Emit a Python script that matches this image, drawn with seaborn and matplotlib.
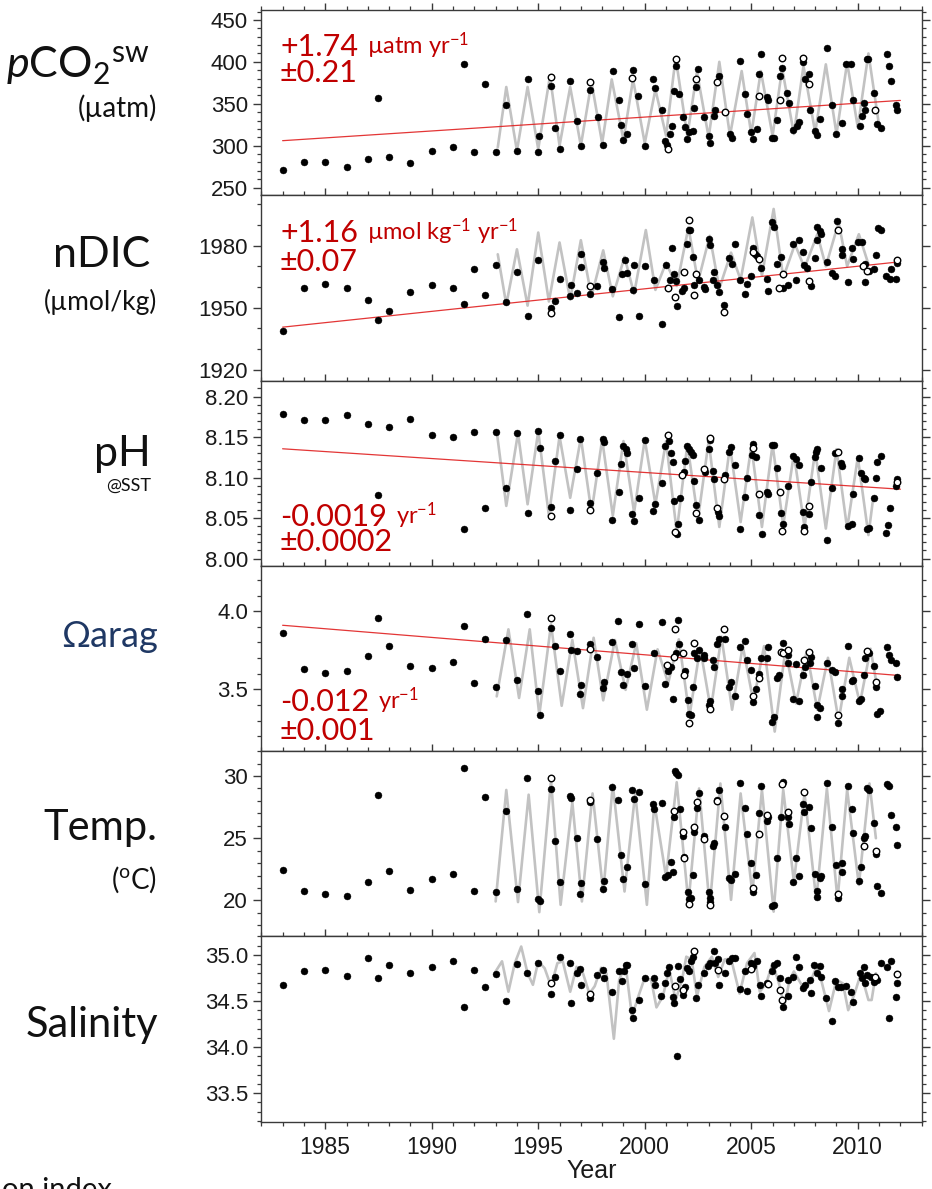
import pandas as pd
import seaborn as sns
import matplotlib.pyplot as plt
from matplotlib.ticker import MultipleLocator, FormatStrFormatter

# ---------------- values (year, value) ----------------
pco2_obs = [(1983.0, 271), (1984.0, 280), (1985.0, 281), (1986.0, 275), (1987.0, 284), (1987.5, 357),
            (1988.0, 286), (1989.0, 279), (1990.0, 294), (1991.0, 298), (1991.5, 397), (1992.0, 293),
            (1992.5, 373), (1993.0, 293), (1993.5, 348), (1994.0, 294), (1994.5, 380), (1995.0, 292),
            (1995.05, 312), (1995.6, 371), (1995.8, 321), (1996.0, 296), (1996.5, 377), (1996.8, 330),
            (1997.0, 300), (1997.45, 367), (1997.8, 334), (1998.05, 301), (1998.5, 389), (1998.8, 355),
            (1998.9, 325), (1999.0, 307), (1999.15, 314), (1999.45, 390), (1999.7, 359), (2000.0, 300),
            (2000.4, 379), (2000.5, 369), (2000.8, 342), (2000.95, 306), (2001.05, 301), (2001.2, 314),
            (2001.3, 323), (2001.35, 365), (2001.47, 395), (2001.6, 362), (2001.8, 334), (2001.87, 322),
            (2002.0, 308), (2002.06, 316), (2002.26, 317), (2002.3, 345), (2002.42, 370), (2002.48, 391),
            (2002.8, 334), (2003.03, 312), (2003.07, 303), (2003.23, 335), (2003.31, 343), (2003.47, 383),
            (2004.0, 314), (2004.1, 309), (2004.45, 401), (2004.7, 362), (2004.8, 338), (2005.0, 316),
            (2005.06, 308), (2005.26, 320), (2005.38, 385), (2005.46, 409), (2005.72, 358), (2005.8, 355),
            (2005.96, 309), (2006.08, 309), (2006.2, 331), (2006.35, 383), (2006.46, 393), (2006.7, 363),
            (2006.77, 351), (2006.98, 319), (2007.13, 324), (2007.24, 328), (2007.45, 400), (2007.52, 380),
            (2007.7, 385), (2007.76, 343), (2008.0, 318), (2008.1, 313), (2008.23, 332), (2008.54, 416),
            (2008.8, 348), (2009.0, 314), (2009.24, 327), (2009.47, 398), (2009.7, 398), (2009.78, 355),
            (2010.1, 323), (2010.2, 335), (2010.3, 351), (2010.36, 343), (2010.45, 403), (2010.5, 403),
            (2010.77, 363), (2010.92, 326), (2011.08, 321), (2011.39, 409), (2011.47, 395), (2011.55, 377),
            (2011.81, 348), (2011.86, 343)]
pco2_open = [(1995.6, 382), (1997.45, 376), (1999.4, 381), (2001.08, 296), (2001.47, 403), (2002.4, 380),
             (2003.38, 376), (2003.75, 340), (2005.37, 359), (2006.35, 355), (2006.43, 404), (2007.45, 405),
             (2007.71, 374), (2010.83, 342)]
pco2_fit = [(1993.1, 298), (1993.5, 370), (1994.0, 294), (1994.5, 370), (1995.0, 296), (1995.55, 383),
            (1996.0, 300), (1996.5, 370), (1997.0, 300), (1997.5, 376), (1998.0, 303), (1998.45, 379),
            (1999.0, 307), (1999.45, 379), (2000.0, 303), (2000.5, 367), (2001.0, 312), (2001.45, 405),
            (2002.0, 312), (2002.45, 388), (2003.0, 310), (2003.5, 400), (2004.0, 312), (2004.55, 389),
            (2005.0, 314), (2005.45, 389), (2006.0, 312), (2006.45, 392), (2007.0, 314), (2007.45, 395),
            (2008.0, 316), (2008.5, 397), (2009.0, 314), (2009.5, 399), (2010.0, 322), (2010.5, 410),
            (2011.0, 324)]
pco2_trend = [(1983.0, 306), (2012.0, 354)]

ndic_obs = [(1983.0, 1938.7), (1984.0, 1959.3), (1985.0, 1961.4), (1986.0, 1959.3), (1987.0, 1953.7),
            (1987.5, 1944.0), (1988.0, 1948.6), (1989.0, 1957.6), (1990.0, 1961.0), (1991.0, 1959.3),
            (1991.5, 1951.8), (1992.0, 1968.8), (1992.5, 1956.0), (1993.0, 1970.6), (1993.5, 1952.6),
            (1994.0, 1967.4), (1994.5, 1945.8), (1995.0, 1972.9), (1995.6, 1949.9), (1995.8, 1953.1),
            (1996.0, 1964.0), (1996.5, 1955.5), (1996.55, 1960.9), (1996.8, 1957.1), (1997.0, 1975.8),
            (1997.03, 1969.6), (1997.45, 1956.7), (1997.77, 1960.4), (1998.04, 1972.1), (1998.08, 1969.0),
            (1998.47, 1959.1), (1998.79, 1945.5), (1998.94, 1966.1), (1999.05, 1972.9), (1999.17, 1966.9),
            (1999.45, 1958.5), (1999.49, 1970.6), (1999.72, 1945.8), (2000.0, 1970.1), (2000.42, 1963.2),
            (2000.81, 1942.2), (2001.02, 1970.6), (2001.17, 1963.6), (2001.28, 1979.0), (2001.36, 1966.4),
            (2001.48, 1962.8), (2001.51, 1950.7), (2001.75, 1958.0), (2001.83, 1959.6), (2001.98, 1980.7),
            (2002.1, 1987.5), (2002.12, 1987.7), (2002.26, 1974.5), (2002.33, 1960.9), (2002.53, 1963.6),
            (2002.79, 1959.9), (2002.84, 1958.8), (2003.01, 1983.1), (2003.07, 1980.2), (2003.19, 1963.2),
            (2003.27, 1967.2), (2003.38, 1960.9), (2003.5, 1957.5), (2003.72, 1951.5), (2003.97, 1974.2),
            (2004.09, 1971.2), (2004.24, 1980.7), (2004.48, 1963.2), (2004.71, 1956.7), (2004.79, 1961.5),
            (2005.0, 1965.3), (2005.07, 1979.0), (2005.18, 1975.8), (2005.29, 1975.0), (2005.44, 1969.3),
            (2005.72, 1964.1), (2005.77, 1958.0), (2005.96, 1991.2), (2006.07, 1989.1), (2006.19, 1971.2),
            (2006.38, 1974.5), (2006.5, 1959.6), (2006.74, 1960.9), (2006.97, 1980.7), (2007.1, 1963.6),
            (2007.25, 1982.6), (2007.44, 1977.1), (2007.49, 1970.6), (2007.63, 1969.0), (2007.79, 1960.7),
            (2007.99, 1974.2), (2008.07, 1982.6), (2008.1, 1989.1), (2008.23, 1987.1), (2008.26, 1985.5),
            (2008.54, 1972.2), (2008.78, 1966.9), (2008.94, 1965.3), (2009.04, 1991.7), (2009.24, 1978.5),
            (2009.26, 1975.3), (2009.52, 1962.5), (2009.71, 1979.0), (2009.79, 1973.4), (2010.02, 1981.9),
            (2010.18, 1981.8), (2010.34, 1971.2), (2010.36, 1962.5), (2010.54, 1967.7), (2010.75, 1968.5),
            (2010.84, 1975.5), (2010.95, 1988.5), (2011.1, 1987.5), (2011.34, 1965.3), (2011.5, 1964.1),
            (2011.57, 1968.5), (2011.81, 1964.1), (2011.84, 1971.7)]
ndic_open = [(1995.6, 1947.4), (1997.42, 1960.7), (2001.1, 1959.3), (2001.44, 1955.0), (2001.86, 1967.2),
             (2002.06, 1992.3), (2002.3, 1956.3), (2002.42, 1966.1), (2003.74, 1947.9), (2005.1, 1976.9),
             (2005.38, 1973.4), (2006.32, 1959.6), (2006.48, 1966.1), (2007.72, 1962.8), (2009.09, 1987.5),
             (2010.26, 1970.1), (2010.45, 1967.7), (2011.84, 1973.0)]
ndic_fit = [(1993.1, 1975.8), (1993.5, 1951.5), (1994.0, 1978.2), (1994.5, 1951.0), (1995.0, 1986.3),
            (1995.5, 1953.0), (1996.0, 1981.5), (1996.5, 1954.0), (1997.0, 1982.6), (1997.5, 1955.5),
            (1998.05, 1977.7), (1998.5, 1955.5), (1999.05, 1974.5), (1999.5, 1956.7), (2000.05, 1987.5),
            (2000.5, 1958.6), (2001.0, 1971.7), (2001.5, 1960.5), (2002.05, 1988.8), (2002.5, 1962.5),
            (2003.05, 1984.7), (2003.5, 1959.3), (2004.05, 1976.6), (2004.5, 1963.5), (2005.05, 1993.6),
            (2005.5, 1965.5), (2006.05, 1997.7), (2006.5, 1964.5), (2007.05, 1980.7), (2007.5, 1969.2),
            (2008.1, 1985.5), (2008.5, 1970.0), (2009.1, 1991.2), (2009.5, 1970.0), (2010.05, 1985.5),
            (2010.5, 1971.0)]
ndic_trend = [(1983.0, 1940.6), (2012.0, 1972.2)]

ph_obs = [(1983.0, 8.179), (1984.0, 8.171), (1985.0, 8.171), (1986.0, 8.177), (1987.0, 8.166), (1987.5, 8.078),
          (1988.0, 8.163), (1989.0, 8.172), (1990.0, 8.153), (1991.0, 8.150), (1991.5, 8.036), (1992.0, 8.156),
          (1992.5, 8.062), (1993.0, 8.156), (1993.5, 8.087), (1994.0, 8.155), (1994.5, 8.056), (1995.0, 8.158),
          (1995.07, 8.136), (1995.6, 8.064), (1995.8, 8.121), (1996.0, 8.153), (1996.48, 8.060), (1996.8, 8.110),
          (1996.98, 8.148), (1997.42, 8.068), (1997.77, 8.105), (1998.04, 8.147), (1998.08, 8.144),
          (1998.47, 8.047), (1998.79, 8.082), (1998.9, 8.117), (1998.97, 8.139), (1999.1, 8.135),
          (1999.17, 8.130), (1999.41, 8.055), (1999.49, 8.046), (1999.72, 8.075), (1999.99, 8.146),
          (2000.39, 8.059), (2000.46, 8.067), (2000.81, 8.093), (2000.97, 8.139), (2001.12, 8.145),
          (2001.23, 8.130), (2001.33, 8.119), (2001.36, 8.071), (2001.51, 8.030), (2001.54, 8.043),
          (2001.67, 8.075), (2001.83, 8.107), (2001.87, 8.121), (2001.98, 8.139), (2002.06, 8.135),
          (2002.17, 8.132), (2002.26, 8.128), (2002.3, 8.096), (2002.42, 8.066), (2002.53, 8.047),
          (2002.84, 8.107), (2003.0, 8.135), (2003.07, 8.146), (2003.22, 8.108), (2003.27, 8.098),
          (2003.46, 8.057), (2003.49, 8.053), (2003.78, 8.103), (2003.94, 8.132), (2004.04, 8.138),
          (2004.24, 8.115), (2004.45, 8.036), (2004.71, 8.076), (2004.79, 8.100), (2005.02, 8.128),
          (2005.07, 8.141), (2005.23, 8.125), (2005.38, 8.054), (2005.49, 8.030), (2005.72, 8.082),
          (2005.77, 8.080), (2005.96, 8.140), (2006.07, 8.140), (2006.19, 8.112), (2006.38, 8.056),
          (2006.48, 8.043), (2006.74, 8.089), (2006.94, 8.127), (2007.1, 8.123), (2007.25, 8.116),
          (2007.44, 8.058), (2007.48, 8.039), (2007.72, 8.055), (2007.79, 8.095), (2008.0, 8.125),
          (2008.03, 8.132), (2008.1, 8.135), (2008.25, 8.112), (2008.54, 8.023), (2008.78, 8.087),
          (2008.94, 8.130), (2009.19, 8.118), (2009.24, 8.114), (2009.52, 8.040), (2009.71, 8.043),
          (2009.79, 8.080), (2010.06, 8.124), (2010.17, 8.106), (2010.29, 8.100), (2010.36, 8.098),
          (2010.45, 8.036), (2010.54, 8.038), (2010.75, 8.075), (2010.84, 8.100), (2010.9, 8.119),
          (2011.1, 8.127), (2011.34, 8.032), (2011.42, 8.041), (2011.52, 8.062), (2011.78, 8.089),
          (2011.84, 8.098)]
ph_open = [(1995.6, 8.053), (1997.42, 8.060), (2001.08, 8.153), (2001.44, 8.033), (2001.76, 8.103),
           (2002.42, 8.056), (2002.79, 8.110), (2003.04, 8.149), (2003.38, 8.063), (2003.73, 8.098),
           (2005.07, 8.137), (2005.38, 8.080), (2006.35, 8.082), (2006.46, 8.034), (2007.48, 8.034),
           (2007.72, 8.065), (2009.09, 8.132), (2011.84, 8.094)]
ph_fit = [(1993.05, 8.157), (1993.5, 8.065), (1994.05, 8.155), (1994.5, 8.067), (1995.0, 8.157), (1995.5, 8.053),
          (1996.0, 8.151), (1996.5, 8.075), (1997.0, 8.149), (1997.5, 8.057), (1998.0, 8.147), (1998.5, 8.053),
          (1999.0, 8.145), (1999.5, 8.057), (2000.0, 8.147), (2000.5, 8.067), (2001.0, 8.145), (2001.5, 8.033),
          (2002.0, 8.141), (2002.5, 8.049), (2003.0, 8.145), (2003.5, 8.039), (2004.0, 8.139), (2004.5, 8.045),
          (2005.0, 8.139), (2005.5, 8.039), (2006.0, 8.141), (2006.5, 8.041), (2007.0, 8.129), (2007.5, 8.039),
          (2008.0, 8.133), (2008.5, 8.037), (2009.0, 8.135), (2009.5, 8.037), (2010.0, 8.125), (2010.5, 8.029),
          (2010.7, 8.070)]
ph_trend = [(1983.0, 8.1355), (2012.0, 8.0856)]

arag_obs = [(1983.0, 3.861), (1984.0, 3.629), (1985.0, 3.607), (1986.0, 3.616), (1987.0, 3.715), (1987.5, 3.957),
            (1988.0, 3.777), (1989.0, 3.648), (1990.0, 3.638), (1991.0, 3.674), (1991.5, 3.905), (1992.0, 3.541),
            (1992.5, 3.824), (1993.0, 3.515), (1993.5, 3.816), (1994.0, 3.562), (1994.48, 3.981), (1995.0, 3.491),
            (1995.07, 3.337), (1995.62, 3.895), (1995.8, 3.777), (1996.0, 3.616), (1996.48, 3.852),
            (1996.54, 3.751), (1996.8, 3.745), (1996.98, 3.472), (1997.03, 3.526), (1997.42, 3.788),
            (1997.77, 3.706), (1998.04, 3.509), (1998.08, 3.545), (1998.47, 3.805), (1998.75, 3.938),
            (1998.9, 3.610), (1999.0, 3.530), (1999.17, 3.601), (1999.41, 3.788), (1999.49, 3.638),
            (1999.72, 3.916), (1999.99, 3.524), (2000.42, 3.730), (2000.81, 3.934), (2000.97, 3.535),
            (2001.1, 3.616), (2001.21, 3.644), (2001.32, 3.438), (2001.48, 3.734), (2001.54, 3.944),
            (2001.63, 3.788), (2001.87, 3.620), (2002.02, 3.430), (2002.07, 3.341), (2002.17, 3.337),
            (2002.26, 3.515), (2002.33, 3.734), (2002.43, 3.702), (2002.53, 3.751), (2002.79, 3.723),
            (2002.8, 3.700), (2003.0, 3.401), (2003.07, 3.423), (2003.22, 3.687), (2003.27, 3.644),
            (2003.41, 3.788), (2003.49, 3.824), (2003.78, 3.824), (2003.94, 3.515), (2004.04, 3.545),
            (2004.24, 3.459), (2004.45, 3.773), (2004.71, 3.809), (2004.79, 3.687), (2005.0, 3.623),
            (2005.07, 3.420), (2005.23, 3.502), (2005.38, 3.600), (2005.44, 3.702), (2005.72, 3.702),
            (2005.77, 3.771), (2005.99, 3.294), (2006.07, 3.322), (2006.19, 3.573), (2006.32, 3.594),
            (2006.48, 3.798), (2006.72, 3.670), (2006.74, 3.720), (2006.97, 3.436), (2007.1, 3.660),
            (2007.25, 3.427), (2007.44, 3.590), (2007.52, 3.644), (2007.76, 3.670), (2007.79, 3.708),
            (2007.99, 3.520), (2008.07, 3.401), (2008.1, 3.322), (2008.23, 3.380), (2008.54, 3.670),
            (2008.78, 3.623), (2008.94, 3.610), (2009.09, 3.288), (2009.24, 3.459), (2009.26, 3.502),
            (2009.52, 3.777), (2009.71, 3.552), (2009.79, 3.562), (2010.06, 3.423), (2010.17, 3.438),
            (2010.29, 3.594), (2010.34, 3.700), (2010.54, 3.734), (2010.75, 3.652), (2010.84, 3.515),
            (2010.9, 3.343), (2011.06, 3.359), (2011.37, 3.773), (2011.47, 3.723), (2011.55, 3.687),
            (2011.78, 3.670), (2011.84, 3.578)]
arag_open = [(1995.6, 3.955), (1997.45, 3.760), (2001.05, 3.659), (2001.36, 3.708), (2001.44, 3.889),
             (2001.79, 3.730), (2001.86, 3.594), (2002.1, 3.288), (2002.3, 3.798), (2003.04, 3.374),
             (2003.74, 3.884), (2005.06, 3.459), (2005.38, 3.573), (2006.38, 3.739), (2006.48, 3.730),
             (2006.74, 3.751), (2007.48, 3.687), (2007.72, 3.739), (2009.09, 3.337), (2010.45, 3.745),
             (2010.84, 3.545)]
arag_fit = [(1993.05, 3.455), (1993.6, 3.884), (1994.1, 3.445), (1994.6, 3.884), (1995.05, 3.337), (1995.6, 3.916),
            (1996.1, 3.395), (1996.6, 3.816), (1997.1, 3.380), (1997.6, 3.830), (1998.05, 3.430), (1998.6, 3.816),
            (1999.1, 3.497), (1999.6, 3.795), (2000.1, 3.370), (2000.6, 3.756), (2001.1, 3.540), (2001.6, 3.820),
            (2002.1, 3.330), (2002.6, 3.766), (2003.1, 3.370), (2003.6, 3.837), (2004.1, 3.370), (2004.6, 3.777),
            (2005.1, 3.420), (2005.6, 3.777), (2006.1, 3.230), (2006.6, 3.751), (2007.1, 3.410), (2007.6, 3.745),
            (2008.1, 3.370), (2008.6, 3.702), (2009.1, 3.300), (2009.6, 3.702), (2010.1, 3.410), (2010.6, 3.760),
            (2010.9, 3.520)]
arag_trend = [(1983.0, 3.91), (2012.0, 3.588)]

temp_obs = [(1983.0, 22.41), (1984.0, 20.77), (1985.0, 20.53), (1986.0, 20.37), (1987.0, 21.52), (1987.5, 28.48),
            (1988.0, 22.33), (1989.0, 20.85), (1990.0, 21.73), (1991.0, 22.11), (1991.5, 30.67), (1992.0, 20.77),
            (1992.5, 28.35), (1993.0, 20.64), (1993.5, 27.19), (1994.0, 20.93), (1994.48, 29.82), (1995.0, 20.13),
            (1995.07, 19.97), (1995.62, 28.96), (1995.8, 24.81), (1996.0, 21.47), (1996.48, 28.43), (1996.54, 28.2),
            (1996.8, 25.0), (1996.98, 20.5), (1997.03, 21.39), (1997.45, 27.9), (1997.77, 24.94), (1998.04, 20.93),
            (1998.08, 21.57), (1998.47, 29.15), (1998.75, 28.07), (1998.9, 23.66), (1999.0, 21.73),
            (1999.15, 22.65), (1999.41, 28.88), (1999.49, 28.15), (1999.72, 28.69), (1999.99, 21.31),
            (2000.39, 27.73), (2000.42, 27.35), (2000.81, 27.81), (2000.97, 21.85), (2001.08, 22.01),
            (2001.23, 23.07), (2001.32, 22.27), (2001.36, 26.74), (2001.44, 30.40), (2001.48, 30.21),
            (2001.54, 30.08), (2001.67, 27.33), (2001.79, 25.22), (2001.83, 23.5), (2002.02, 20.67),
            (2002.07, 20.13), (2002.17, 20.18), (2002.26, 22.01), (2002.3, 25.54), (2002.43, 27.41),
            (2002.53, 28.67), (2002.79, 25.14), (2003.0, 20.67), (2003.04, 20.18), (2003.07, 19.86),
            (2003.22, 24.41), (2003.27, 24.6), (2003.41, 28.07), (2003.49, 28.88), (2003.78, 25.94),
            (2003.94, 21.79), (2004.04, 21.65), (2004.24, 22.11), (2004.45, 29.41), (2004.71, 27.41),
            (2004.79, 25.35), (2005.0, 22.99), (2005.07, 20.67), (2005.23, 22.01), (2005.38, 27.0),
            (2005.44, 29.23), (2005.72, 26.39), (2005.77, 26.74), (2005.99, 19.52), (2006.07, 19.65),
            (2006.19, 23.39), (2006.38, 26.74), (2006.48, 29.55), (2006.74, 26.69), (2006.78, 26.15),
            (2006.97, 21.52), (2007.1, 23.45), (2007.25, 21.93), (2007.44, 27.73), (2007.48, 27.14),
            (2007.72, 27.54), (2007.79, 25.8), (2007.99, 22.11), (2008.07, 20.72), (2008.1, 20.24),
            (2008.23, 21.79), (2008.26, 21.93), (2008.54, 29.41), (2008.78, 25.88), (2008.98, 22.86),
            (2009.09, 20.18), (2009.24, 22.99), (2009.26, 22.32), (2009.52, 29.23), (2009.71, 27.33),
            (2009.79, 25.4), (2010.06, 21.57), (2010.17, 22.65), (2010.29, 25.0), (2010.34, 25.21),
            (2010.45, 29.01), (2010.54, 28.88), (2010.75, 26.21), (2010.84, 23.75), (2010.9, 21.2),
            (2011.1, 20.59), (2011.37, 29.33), (2011.47, 29.23), (2011.55, 26.87), (2011.78, 25.94),
            (2011.84, 24.47)]
temp_open = [(1995.6, 29.87), (1997.42, 28.07), (2001.36, 27.19), (2001.79, 25.54), (2001.86, 23.45),
             (2002.1, 19.70), (2002.33, 25.94), (2002.43, 27.9), (2002.8, 24.9), (2003.07, 19.6), (2003.41, 27.99),
             (2003.74, 26.79), (2005.06, 20.99), (2005.38, 25.35), (2005.72, 26.9), (2006.46, 29.33),
             (2006.71, 27.14), (2007.48, 28.75), (2009.09, 20.5), (2010.29, 24.4), (2010.84, 24.01)]
temp_fit = [(1993.0, 19.92), (1993.5, 28.88), (1994.05, 19.87), (1994.55, 28.5), (1995.05, 19.06), (1995.6, 29.65),
            (1996.05, 19.65), (1996.6, 27.9), (1997.05, 19.92), (1997.55, 28.6), (1998.05, 20.67), (1998.5, 29.3),
            (1999.05, 20.72), (1999.55, 28.6), (2000.1, 19.65), (2000.45, 27.8), (2001.0, 21.9), (2001.5, 29.5),
            (2002.05, 19.8), (2002.55, 29.0), (2003.05, 19.5), (2003.55, 29.4), (2004.05, 20.05), (2004.5, 28.6),
            (2005.05, 20.6), (2005.5, 28.9), (2006.05, 19.1), (2006.5, 28.9), (2007.0, 21.5), (2007.5, 28.6),
            (2008.05, 20.05), (2008.55, 29.0), (2009.05, 20.05), (2009.5, 28.9), (2010.05, 21.25), (2010.55, 29.4),
            (2010.85, 25.0)]

sal_obs = [(1983.0, 34.675), (1984.0, 34.82), (1985.0, 34.837), (1986.0, 34.772), (1987.0, 34.971),
           (1987.5, 34.754), (1988.0, 34.89), (1989.0, 34.80), (1990.0, 34.866), (1991.0, 34.928), (1991.5, 34.43),
           (1992.0, 34.837), (1992.5, 34.65), (1993.0, 34.79), (1993.5, 34.50), (1994.0, 34.90), (1994.49, 34.80),
           (1995.0, 34.91), (1995.62, 34.577), (1995.8, 34.758), (1996.0, 34.975), (1996.5, 34.91),
           (1996.55, 34.48), (1996.8, 34.80), (1996.98, 34.845), (1997.03, 34.675), (1997.45, 34.53),
           (1997.77, 34.78), (1998.04, 34.837), (1998.08, 34.754), (1998.47, 34.60), (1998.79, 34.82),
           (1998.91, 34.72), (1999.02, 34.82), (1999.1, 34.89), (1999.15, 34.89), (1999.38, 34.40),
           (1999.45, 34.31), (1999.72, 34.51), (2000.0, 34.747), (2000.42, 34.747), (2000.47, 34.675),
           (2000.78, 34.55), (2000.97, 34.70), (2001.05, 34.80), (2001.12, 34.867), (2001.31, 34.54),
           (2001.36, 34.476), (2001.51, 33.905), (2001.54, 34.88), (2001.67, 34.736), (2001.78, 34.566),
           (2001.87, 34.65), (2001.98, 34.856), (2002.06, 34.82), (2002.17, 34.928), (2002.26, 34.98),
           (2002.4, 34.53), (2002.5, 34.675), (2002.8, 34.80), (2002.96, 34.88), (2003.07, 34.917),
           (2003.23, 35.047), (2003.31, 34.91), (2003.43, 34.953), (2003.5, 34.675), (2003.78, 34.80),
           (2003.96, 34.928), (2004.09, 34.964), (2004.24, 34.964), (2004.45, 34.63), (2004.71, 34.826),
           (2004.79, 34.61), (2005.0, 34.91), (2005.1, 34.88), (2005.26, 34.928), (2005.42, 34.675),
           (2005.47, 34.55), (2005.72, 34.70), (2005.96, 34.82), (2006.09, 34.89), (2006.19, 34.91),
           (2006.35, 34.747), (2006.48, 34.43), (2006.71, 34.555), (2006.74, 34.73), (2006.98, 34.758),
           (2007.1, 34.975), (2007.24, 34.867), (2007.45, 34.64), (2007.52, 34.675), (2007.76, 34.73),
           (2007.81, 34.59), (2007.96, 34.89), (2008.07, 34.80), (2008.23, 34.88), (2008.25, 34.76),
           (2008.51, 34.53), (2008.8, 34.277), (2008.95, 34.72), (2009.05, 34.656), (2009.2, 34.656),
           (2009.47, 34.664), (2009.7, 34.60), (2009.78, 34.49), (2010.1, 34.80), (2010.2, 34.747),
           (2010.3, 34.873), (2010.36, 34.70), (2010.45, 34.78), (2010.61, 34.765), (2010.77, 34.71),
           (2010.92, 34.73), (2011.1, 34.917), (2011.39, 34.867), (2011.45, 34.31), (2011.57, 34.935),
           (2011.81, 34.54), (2011.86, 34.70)]
sal_open = [(1995.6, 34.70), (1997.45, 34.57), (2001.44, 34.667), (2001.78, 34.62), (2002.31, 35.047),
            (2003.43, 34.837), (2005.0, 34.845), (2005.8, 34.68), (2006.35, 34.62), (2006.43, 34.51),
            (2010.83, 34.758), (2011.86, 34.79)]
sal_fit = [(1993.0, 34.82), (1993.3, 34.93), (1993.6, 34.60), (1993.9, 34.91), (1994.2, 35.09), (1994.5, 34.80),
           (1994.75, 34.675), (1995.0, 34.93), (1995.3, 34.855), (1995.6, 34.66), (1995.9, 34.91), (1996.15, 34.93),
           (1996.5, 34.60), (1996.8, 34.87), (1997.1, 34.80), (1997.4, 34.58), (1997.65, 34.66), (1997.95, 34.86),
           (1998.2, 34.80), (1998.55, 34.09), (1998.8, 34.73), (1999.1, 34.89), (1999.4, 34.33), (1999.7, 34.55),
           (2000.0, 34.75), (2000.3, 34.73), (2000.55, 34.43), (2000.85, 34.55), (2001.15, 34.84), (2001.45, 34.51),
           (2001.75, 34.73), (2001.95, 34.98), (2002.2, 34.95), (2002.45, 34.55), (2002.8, 34.87), (2003.15, 34.98),
           (2003.45, 34.76), (2003.75, 34.95), (2004.05, 34.96), (2004.45, 34.58), (2004.8, 34.91), (2005.15, 35.02),
           (2005.4, 34.60), (2005.7, 34.69), (2006.0, 34.91), (2006.3, 34.69), (2006.55, 34.44), (2006.8, 34.73),
           (2007.0, 34.82), (2007.4, 34.66), (2007.75, 34.69), (2008.05, 34.87), (2008.3, 34.71), (2008.65, 34.39),
           (2009.0, 34.73), (2009.3, 34.69), (2009.55, 34.40), (2009.85, 34.58), (2010.15, 34.80), (2010.5, 34.51),
           (2010.65, 34.51), (2010.85, 34.80), (2010.95, 34.73)]

# trend annotations: rate, unit, uncertainty
rate_text = ['+1.74', '+1.16', '-0.0019', '-0.012']
rate_unit = [u'\u00b5atm yr$^{-1}$', u'\u00b5mol kg$^{-1}$ yr$^{-1}$', 'yr$^{-1}$', 'yr$^{-1}$']
rate_err = [u'\u00b10.21', u'\u00b10.07', u'\u00b10.0002', u'\u00b10.001']

# ---------------------------------------------------------------------------
sns.set_style('ticks')
plt.rcParams['font.family'] = ['Liberation Sans', 'DejaVu Sans']
plt.rcParams['mathtext.fontset'] = 'custom'
plt.rcParams['mathtext.rm'] = 'Lato'
plt.rcParams['mathtext.it'] = 'Lato:italic'
plt.rcParams['mathtext.bf'] = 'Lato:bold'

W, H = 932, 1189
RED = '#c00000'
LABEL_FONT = ['Lato', 'DejaVu Sans']


def to_df(pairs):
    return pd.DataFrame(pairs, columns=['year', 'value'])


panels = [
    dict(obs=pco2_obs, opn=pco2_open, fit=pco2_fit, trend=pco2_trend,
         ylim=(240.9, 461.8), major=50, minor=10, fmt='%d', rate=(0.750, 0.609)),
    dict(obs=ndic_obs, opn=ndic_open, fit=ndic_fit, trend=ndic_trend,
         ylim=(1914.8, 2004.3), major=30, minor=10, fmt='%d', rate=(0.747, 0.592)),
    dict(obs=ph_obs, opn=ph_open, fit=ph_fit, trend=ph_trend,
         ylim=(7.991, 8.2197), major=0.05, minor=0.01, fmt='%.2f', rate=(0.215, 0.081)),
    dict(obs=arag_obs, opn=arag_open, fit=arag_fit, trend=arag_trend,
         ylim=(3.105, 4.29), major=0.5, minor=0.1, fmt='%.1f', rate=(0.217, 0.058)),
    dict(obs=temp_obs, opn=temp_open, fit=temp_fit, trend=None,
         ylim=(17.11, 32.0), major=5, minor=1, fmt='%d', rate=None),
    dict(obs=sal_obs, opn=sal_open, fit=sal_fit, trend=None,
         ylim=(33.19, 35.2), major=0.5, minor=0.1, fmt='%.1f', rate=None),
]

fig, axes = plt.subplots(6, 1, figsize=(W / 100, H / 100), dpi=100, sharex=True)
fig.subplots_adjust(left=261.3 / W, right=921.7 / W, top=1 - 10 / H, bottom=1 - 1121.7 / H, hspace=0)

for i, (ax, p) in enumerate(zip(axes, panels)):
    last = i == len(panels) - 1
    sns.lineplot(data=to_df(p['fit']), x='year', y='value', ax=ax, color='#c2c2c2', lw=1.9,
                 estimator=None, sort=False, zorder=2)
    if p['trend'] is not None:
        sns.lineplot(data=to_df(p['trend']), x='year', y='value', ax=ax, color='#e02020', lw=0.9,
                     alpha=0.9, estimator=None, zorder=3)
    sns.scatterplot(data=to_df(p['obs']), x='year', y='value', ax=ax, color='black', s=25,
                    edgecolor='black', linewidth=0.3, legend=False, zorder=4)
    sns.scatterplot(data=to_df(p['opn']), x='year', y='value', ax=ax, color='white', s=22,
                    edgecolor='black', linewidth=1.0, legend=False, zorder=5)
    ax.set_xlabel('')
    ax.set_ylabel('')
    ax.set_xlim(1982, 2013)
    ax.set_ylim(p['ylim'])
    ax.xaxis.set_major_locator(MultipleLocator(5))
    ax.xaxis.set_minor_locator(MultipleLocator(1))
    ax.yaxis.set_major_locator(MultipleLocator(p['major']))
    ax.yaxis.set_minor_locator(MultipleLocator(p['minor']))
    ax.yaxis.set_major_formatter(FormatStrFormatter(p['fmt']))
    for s in ax.spines.values():
        s.set_linewidth(1.0)
        s.set_color('#3a3a3a')
    ax.tick_params(axis='y', which='both', left=True, right=True, direction='out',
                   labelsize=16, labelcolor='#1a1a1a', color='#3a3a3a', pad=4)
    ax.tick_params(axis='y', which='major', length=5.5, width=1.0)
    ax.tick_params(axis='y', which='minor', length=3.2, width=0.9)
    ax.tick_params(axis='x', which='both', top=True, bottom=last, labelbottom=last,
                   direction='out', color='#3a3a3a', labelsize=16.5, labelcolor='#1a1a1a', pad=5)
    ax.tick_params(axis='x', which='major', length=5.0, width=1.0)
    ax.tick_params(axis='x', which='minor', length=3.0, width=0.9)

    if p['rate'] is not None:
        y1, y2 = p['rate']
        t = ax.text(0.029, y1, rate_text[i], transform=ax.transAxes, color=RED, fontsize=22,
                    family=LABEL_FONT, va='baseline', zorder=6)
        ax.annotate(rate_unit[i], xy=(1, 0), xycoords=t, xytext=(6, 0), textcoords='offset points',
                    color=RED, fontsize=17, family=LABEL_FONT, va='bottom', zorder=6)
        ax.text(0.027, y2, rate_err[i], transform=ax.transAxes, color=RED, fontsize=22,
                family=LABEL_FONT, va='baseline', zorder=6)

axes[-1].set_xlabel('Year', fontsize=18, color='#1a1a1a', labelpad=0)

# left-hand row labels (right edge x, baseline y in pixels)
row_labels = [
    (r'$\mathit{p}\mathrm{CO}_{2}{}^{\mathrm{sw}}$', 149, 78, 31, '#111111'),
    (u'(\u00b5atm)', 157, 117, 20, '#111111'),
    ('nDIC', 150, 267, 31, '#111111'),
    (u'(\u00b5mol/kg)', 157, 310, 19, '#111111'),
    ('pH', 151, 466, 31, '#111111'),
    ('@SST', 151, 491, 13, '#111111'),
    (u'\u03a9arag', 158, 647, 26, '#1f3864'),
    ('Temp.', 157, 840, 30, '#111111'),
    (r'($^{\mathrm{o}}$C)', 157, 889, 20, '#111111'),
    ('Salinity', 158, 1037, 30, '#111111'),
]
for txt, xr, yb, size, col in row_labels:
    fig.text(xr / W, 1 - yb / H, txt, ha='right', va='baseline', fontsize=size,
             color=col, family=LABEL_FONT)

fig.text(2 / W, 1 - 1198 / H, 'on index', ha='left', va='baseline', fontsize=21,
         color='#111111', family=LABEL_FONT)

fig.savefig('out.png', dpi=100)
